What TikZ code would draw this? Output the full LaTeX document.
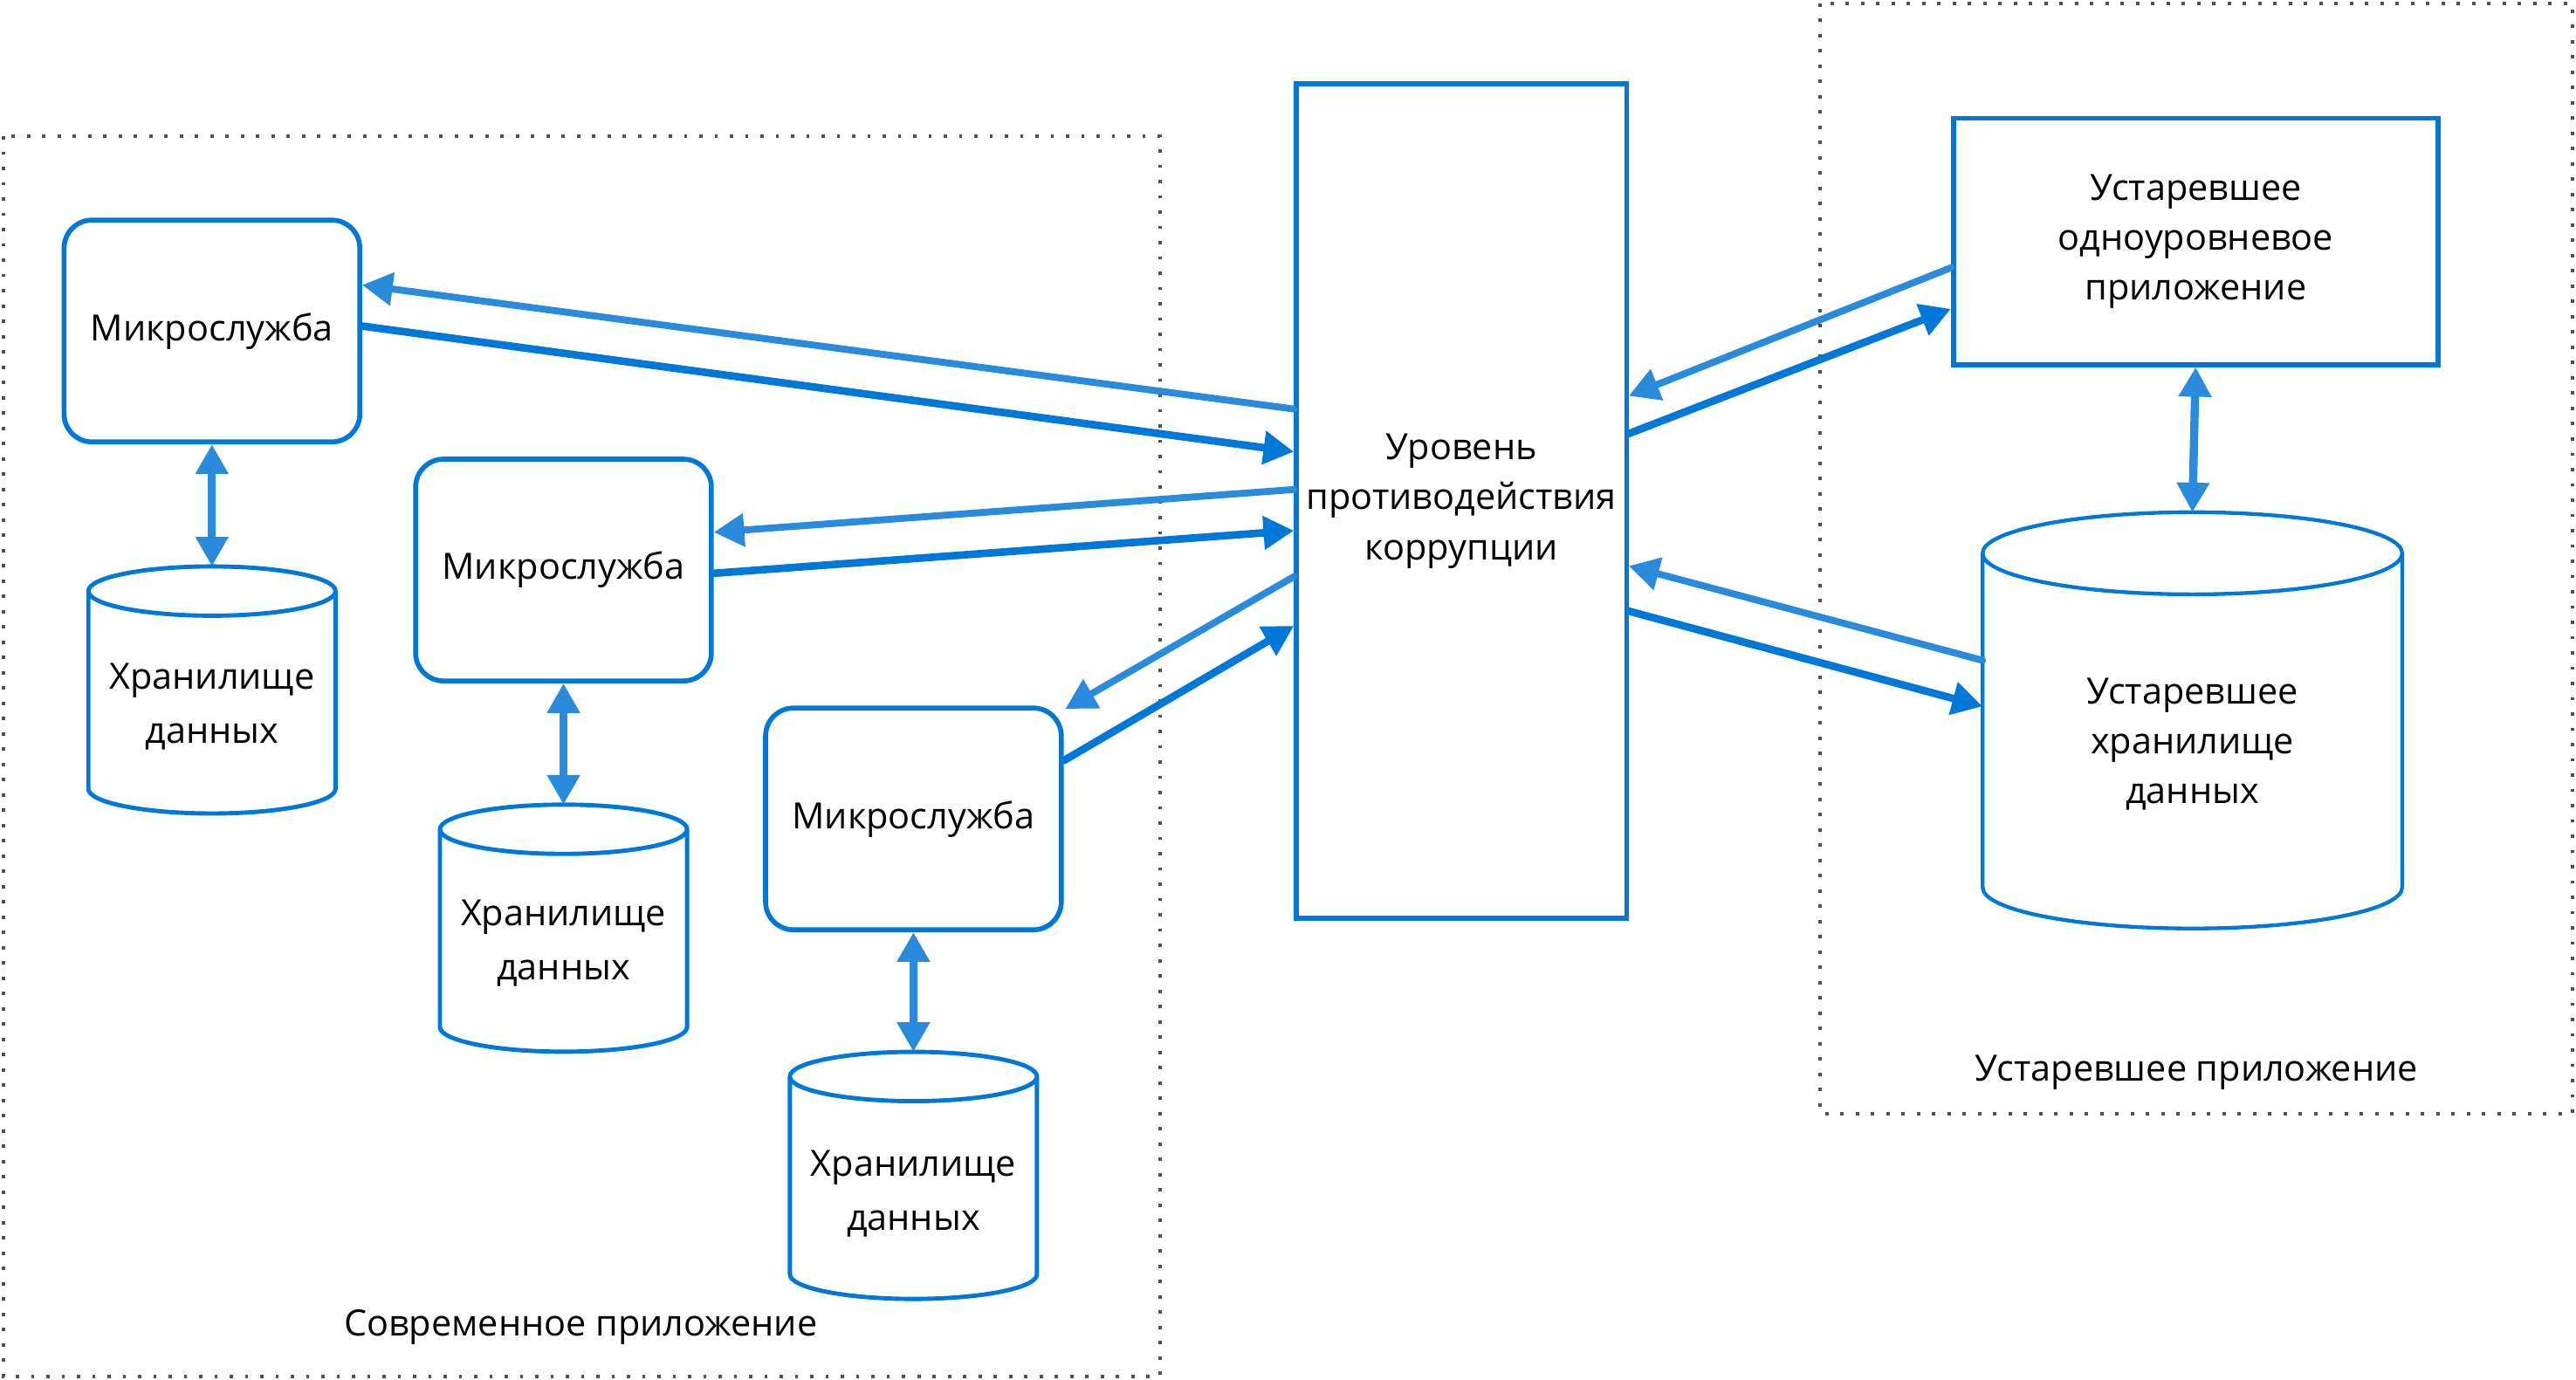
\documentclass[tikz,border=0pt]{standalone}
\usepackage{fontspec}
\setmainfont{Open Sans}
\usetikzlibrary{arrows.meta,calc}
\definecolor{msblue}{HTML}{0078D7}
\definecolor{mslight}{HTML}{2A8ADB}
\definecolor{framegray}{HTML}{505050}
\begin{document}
\begin{tikzpicture}[x=1pt,y=-1pt,
  txt/.style={font=\fontsize{22}{30.5}\selectfont, align=center, inner sep=0pt},
  storetxt/.style={font=\fontsize{22}{33}\selectfont, align=center, inner sep=0pt},
  svc/.style={draw=msblue, line width=3pt, rounded corners=17pt,
    minimum width=180pt, minimum height=135pt, txt},
  tierbox/.style={draw=msblue, line width=3pt, txt},
  store/.style={inner sep=0pt},
  boundary/.style={draw=framegray, line width=2pt, dash pattern=on 2pt off 7.3pt},
  fwd/.style={draw=msblue, line width=4.6pt, line cap=round,
    -{Triangle[length=18.5pt,width=19.5pt]}},
  back/.style={fwd, draw=mslight, line width=4.2pt},
  link/.style={draw=mslight, line width=5pt,
    {Triangle[length=18pt,width=19pt]}-{Triangle[length=18pt,width=19pt]}},
]
\fill[white] (0,0) rectangle (1568,840);
\useasboundingbox (0,0) rectangle (1568,840);

% application boundaries
\draw[boundary] (2,83) rectangle (706,838);
\draw[boundary] (1108,2) rectangle (1566,678);
\node[txt] (modernlbl) at (353.5,808) {Современное приложение};
\node[txt] (legacylbl) at (1337,653) {Устаревшее приложение};

% microservices
\node[svc] (ms1) at (129,201.5) {Микрослужба};
\node[svc] (ms2) at (343,347) {Микрослужба};
\node[svc] (ms3) at (556,498.5) {Микрослужба};

% anti-corruption layer and legacy tier
\node[tierbox, line width=2.8pt, minimum width=201pt, minimum height=508pt] (acl) at (889.5,305)
  {Уровень\\противодействия\\коррупции};
\node[tierbox, minimum width=295pt, minimum height=150pt] (legapp) at (1336.5,147)
  {Устаревшее\\одноуровневое\\приложение};

% data stores
\node[store, minimum width=150pt, minimum height=150pt] (ds1) at (129,420) {};
\node[store, minimum width=150pt, minimum height=150pt] (ds2) at (343,565) {};
\node[store, minimum width=150pt, minimum height=150pt] (ds3) at (556,715.5) {};
\node[store, minimum width=255pt, minimum height=253pt] (legds) at (1334.5,438.5) {};

\foreach \s/\e/\w in {ds1/15/2.6, ds2/15/2.6, ds3/15/2.6, legds/25/2.3}{
  \draw[draw=msblue, line width=\w pt] let \p1=(\s.north west), \p2=(\s.south east) in
    ({(\x1+\x2)/2},{\y1-\e pt}) ellipse [x radius={(\x2-\x1)/2}, y radius=\e pt]
    (\x1,{\y1-\e pt}) -- (\x1,{\y2+\e pt})
      arc[start angle=180, end angle=360, x radius={(\x2-\x1)/2}, y radius=\e pt]
      -- (\x2,{\y1-\e pt});
}
\node[storetxt] (ds1t) at ($(ds1.center)+(0,10)$) {Хранилище\\данных};
\node[storetxt] (ds2t) at ($(ds2.center)+(0,9)$) {Хранилище\\данных};
\node[storetxt] (ds3t) at ($(ds3.center)+(0,11)$) {Хранилище\\данных};
\node[txt] (legdst) at ($(legds.center)+(0,14.5)$) {Устаревшее\\хранилище\\данных};

% service to store links
\draw[link] (ms1.south) -- (ds1.north);
\draw[link] (ms2.south) -- (ds2.north);
\draw[link] (ms3.south) -- (ds3.north);
\draw[link] (legapp.south) -- (legds.north);

% traffic through the anti-corruption layer
\draw[back] ($(acl.west)+(0,-56)$) -- ($(ms1.east)+(0,-28)$);
\draw[fwd]  ($(ms1.east)+(0,-3)$) -- ($(acl.west)+(0,-30)$);
\draw[back] ($(acl.west)+(0,-7)$) -- ($(ms2.east)+(0,-23)$);
\draw[fwd]  ($(ms2.east)+(0,2)$) -- ($(acl.west)+(0,18)$);
\draw[back] ($(acl.west)+(0,46)$) -- ($(ms3.north east)+(1,2)$);
\draw[fwd]  ($(ms3.east)+(0,-35.5)$) -- ($(acl.west)+(0,76)$);
\draw[back] ($(legapp.west)+(0,16)$) -- ($(acl.east)+(0,-64)$);
\draw[fwd]  ($(acl.east)+(0,-41)$) -- ($(legapp.west)+(0,41)$);
\draw[back] ($(legds.west)+(0,-36.5)$) -- ($(acl.east)+(0,39.5)$);
\draw[fwd]  ($(acl.east)+(0,67)$) -- ($(legds.west)+(0,-8.5)$);
\end{tikzpicture}
\end{document}
